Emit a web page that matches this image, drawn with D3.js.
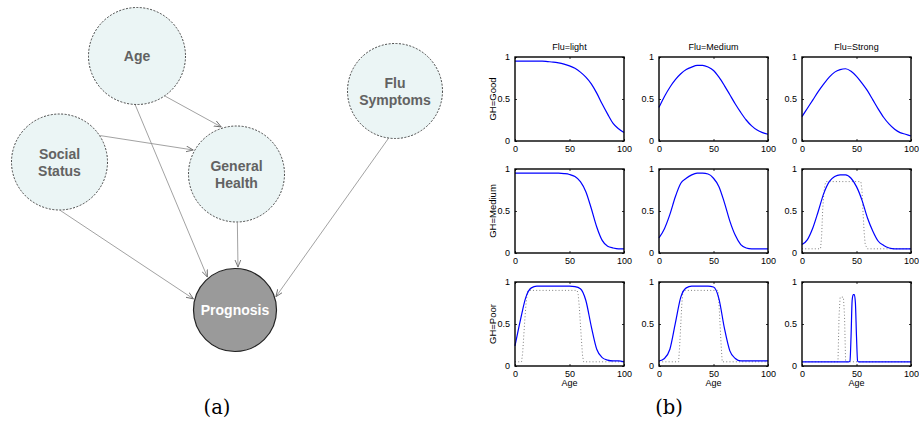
<!DOCTYPE html>
<html><head><meta charset="utf-8">
<script src="https://cdn.jsdelivr.net/npm/d3@7"></script>
<style>body{margin:0;background:#fff}svg{display:block}</style>
</head><body><svg id="c" width="919" height="425"></svg>
<script>
// ---------------- data: network diagram ----------------
const nodeNames = ["Age", "Social Status", "General Health", "Flu Symptoms", "Prognosis"];
const edgeList = [
  ["Age", "General Health"], ["Age", "Prognosis"],
  ["Social Status", "General Health"], ["Social Status", "Prognosis"],
  ["General Health", "Prognosis"], ["Flu Symptoms", "Prognosis"]
];

// ---------------- data: small multiples ----------------
const fluLevels = ["light", "Medium", "Strong"];
const ghLevels = ["Good", "Medium", "Poor"];
const xTicks = [0, 50, 100];
const yTicks = [0, 0.5, 1];
const ages = [0,5,10,15,20,25,30,35,40,45,50,55,60,65,70,75,80,85,90,95,100];

const goodLight    = [0.95,0.95,0.95,0.95,0.95,0.95,0.945,0.94,0.93,0.915,0.895,0.865,0.82,0.76,0.68,0.57,0.44,0.32,0.21,0.145,0.10];
const goodMedium   = [0.40,0.53,0.64,0.73,0.80,0.85,0.88,0.90,0.90,0.88,0.84,0.76,0.66,0.55,0.44,0.34,0.25,0.18,0.13,0.10,0.08];
const goodStrong   = [0.29,0.39,0.49,0.59,0.68,0.76,0.82,0.85,0.86,0.83,0.77,0.69,0.60,0.49,0.38,0.28,0.20,0.14,0.10,0.08,0.06];
const mediumLight  = [0.95,0.95,0.95,0.95,0.95,0.95,0.95,0.95,0.95,0.945,0.935,0.91,0.85,0.73,0.53,0.31,0.15,0.08,0.06,0.05,0.05];
const mediumMedium = [0.18,0.29,0.46,0.67,0.83,0.89,0.93,0.95,0.95,0.94,0.89,0.79,0.60,0.38,0.21,0.10,0.06,0.05,0.05,0.05,0.05];
const mediumStrong = [0.10,0.16,0.30,0.50,0.71,0.85,0.91,0.93,0.93,0.89,0.79,0.63,0.42,0.26,0.14,0.09,0.06,0.05,0.05,0.05,0.05];
const poorLight    = [0.24,0.55,0.82,0.93,0.95,0.95,0.95,0.95,0.95,0.95,0.95,0.945,0.92,0.78,0.47,0.20,0.10,0.07,0.06,0.06,0.05];
const poorMedium   = [0.06,0.09,0.20,0.51,0.82,0.93,0.95,0.95,0.95,0.95,0.94,0.80,0.45,0.18,0.09,0.06,0.06,0.06,0.06,0.06,0.06];
const poorStrongAges = [0,43,44,45,46,47,48,49,50,51,52,100];
const poorStrong     = [0.05,0.05,0.06,0.35,0.78,0.85,0.85,0.75,0.35,0.06,0.05,0.05];

// dotted reference curves
const mediumStrongRefAges = [0,17,18,19,20,21,22,54,55,56,57,58,60,100];
const mediumStrongRef     = [0.05,0.05,0.2,0.52,0.71,0.81,0.85,0.85,0.75,0.48,0.25,0.1,0.05,0.05];
const poorLightRefAges = [0,6,7,8,9,10,11,12,57,58,59,60,61,62,63,100];
const poorLightRef     = [0.05,0.05,0.15,0.35,0.55,0.72,0.85,0.9,0.9,0.85,0.7,0.5,0.3,0.12,0.05,0.05];
const poorMediumRefAges = [0,18,19,20,21,22,54,55,56,57,58,100];
const poorMediumRef     = [0.05,0.05,0.25,0.5,0.75,0.9,0.9,0.75,0.5,0.25,0.05,0.05];
const poorStrongRefAges = [0,33,34,35,38,39,40,100];
const poorStrongRef     = [0.05,0.05,0.6,0.82,0.82,0.6,0.05,0.05];

// ---------------- layout (not data) ----------------
const nodeLayout = {
  "Age":            {cx: 137, cy: 56,  r: 48.5, dark: false},
  "Social Status":  {cx: 59.5,cy: 162, r: 48,   dark: false},
  "General Health": {cx: 236.5,cy: 174, r: 48,  dark: false},
  "Flu Symptoms":   {cx: 395, cy: 91,  r: 47.5, dark: false},
  "Prognosis":      {cx: 235, cy: 310, r: 41.5, dark: true}
};
// anchor angles (deg) on source / target circle for each edge
const edgeAnchors = [[55,-108],[92,-130],[-33,-151],[89,-165],[89,-86],[98,-18]];

const svg = d3.select("#c");
const defs = svg.append("defs");
defs.append("marker").attr("id","arr").attr("viewBox","0 -5 10 10")
  .attr("refX",9).attr("refY",0).attr("markerWidth",8).attr("markerHeight",8)
  .attr("markerUnits","userSpaceOnUse").attr("orient","auto")
  .append("path").attr("d","M0,-3.6L9,0L0,3.6").attr("fill","none")
  .attr("stroke","#6a6a6a").attr("stroke-width",1.1);

const sans = "'Liberation Sans', Arial, Helvetica, sans-serif";

// ---------- diagram ----------
const gD = svg.append("g");
const rad = a => a * Math.PI / 180;
edgeList.forEach((e, i) => {
  const s = nodeLayout[e[0]], t = nodeLayout[e[1]];
  const [a1, a2] = edgeAnchors[i];
  gD.append("line")
    .attr("x1", s.cx + (s.r + 0.5) * Math.cos(rad(a1)))
    .attr("y1", s.cy + (s.r + 0.5) * Math.sin(rad(a1)))
    .attr("x2", t.cx + (t.r + 1.5) * Math.cos(rad(a2)))
    .attr("y2", t.cy + (t.r + 1.5) * Math.sin(rad(a2)))
    .attr("stroke", "#8a8a8a").attr("stroke-width", 0.8)
    .attr("marker-end", "url(#arr)");
});
nodeNames.forEach(n => {
  const L = nodeLayout[n];
  gD.append("circle").attr("cx", L.cx).attr("cy", L.cy).attr("r", L.r)
    .attr("fill", L.dark ? "#9a9a9a" : "#ebf5f5")
    .attr("stroke", L.dark ? "#222" : "#333")
    .attr("stroke-width", L.dark ? 1.2 : 0.9)
    .attr("stroke-dasharray", L.dark ? null : "2,1.5");
  const words = n === "Prognosis" || n === "Age" ? [n] : n.split(" ");
  const lh = 17;
  const t = gD.append("text").attr("text-anchor", "middle")
    .style("font-family", sans)
    .attr("font-weight", "bold").attr("font-size", 14)
    .attr("fill", L.dark ? "#ffffff" : "#626262");
  words.forEach((w, k) => {
    t.append("tspan").attr("x", L.cx)
      .attr("y", L.cy + 5 + (k - (words.length - 1) / 2) * lh).text(w);
  });
});

// ---------- small multiples ----------
const blueData = [
  [[ages, goodLight], [ages, goodMedium], [ages, goodStrong]],
  [[ages, mediumLight], [ages, mediumMedium], [ages, mediumStrong]],
  [[ages, poorLight], [ages, poorMedium], [poorStrongAges, poorStrong]]
];
const refData = [
  [null, null, null],
  [null, null, [mediumStrongRefAges, mediumStrongRef]],
  [[poorLightRefAges, poorLightRef], [poorMediumRefAges, poorMediumRef], [poorStrongRefAges, poorStrongRef]]
];
const colX = [515, 659, 802], rowY = [57, 169, 282];
const pw = 109, ph = 84;
const x = d3.scaleLinear().domain([0, 100]).range([0, pw]);
const y = d3.scaleLinear().domain([0, 1]).range([ph, 0]);
const fs = 9;
const fmt = d => String(d);

ghLevels.forEach((gh, r) => {
  fluLevels.forEach((flu, c) => {
    const g = svg.append("g").attr("transform", `translate(${colX[c]},${rowY[r]})`);
    g.append("rect").attr("width", pw).attr("height", ph).attr("fill", "#fff");
    const ref = refData[r][c];
    if (ref) {
      const pts = ref[0].map((a, i) => [a, ref[1][i]]);
      g.append("path").attr("d", d3.line().x(d => x(d[0])).y(d => y(d[1]))(pts))
        .attr("fill", "none").attr("stroke", "#808080").attr("stroke-width", 1)
        .attr("stroke-dasharray", "1,2.2");
    }
    const bd = blueData[r][c];
    const bpts = bd[0].map((a, i) => [a, bd[1][i]]);
    g.append("path").attr("d", d3.line().curve(d3.curveMonotoneX).x(d => x(d[0])).y(d => y(d[1]))(bpts))
      .attr("fill", "none").attr("stroke", "#0000ff").attr("stroke-width", 1.2);

    const styleAxis = (sel, labels) => {
      sel.select(".domain").remove();
      sel.attr("font-family", null).attr("font-size", null);
      sel.selectAll(".tick line").attr("stroke", "#000").attr("stroke-width", 0.8);
      sel.selectAll(".tick text").style("font-family", sans).style("font-size", fs + "px").attr("fill", "#000");
      if (!labels) sel.selectAll(".tick text").remove();
    };
    g.append("g").attr("transform", `translate(0,${ph})`)
      .call(d3.axisBottom(x).tickValues(xTicks).tickFormat(fmt).tickSizeInner(-2).tickSizeOuter(0).tickPadding(4.2))
      .call(s => styleAxis(s, true));
    g.append("g")
      .call(d3.axisTop(x).tickValues(xTicks).tickSizeInner(-2).tickSizeOuter(0))
      .call(s => styleAxis(s, false));
    g.append("g")
      .call(d3.axisLeft(y).tickValues(yTicks).tickFormat(fmt).tickSizeInner(-2).tickSizeOuter(0).tickPadding(5))
      .call(s => styleAxis(s, true));
    g.append("g").attr("transform", `translate(${pw},0)`)
      .call(d3.axisRight(y).tickValues(yTicks).tickSizeInner(-2).tickSizeOuter(0))
      .call(s => styleAxis(s, false));

    g.append("rect").attr("width", pw).attr("height", ph).attr("fill", "none")
      .attr("stroke", "#000").attr("stroke-width", 1.4);

    if (r === 0) {
      g.append("text").attr("x", pw / 2).attr("y", -7).attr("text-anchor", "middle")
        .style("font-family", sans).style("font-size", "9px").text("Flu=" + flu);
    }
    if (c === 0) {
      g.append("text").attr("transform", `translate(-19.5,${ph / 2}) rotate(-90)`)
        .attr("text-anchor", "middle").style("font-family", sans).style("font-size", "9.5px")
        .text("GH=" + gh);
    }
    if (r === 2) {
      g.append("text").attr("x", pw / 2).attr("y", ph + 19.5).attr("text-anchor", "middle")
        .style("font-family", sans).style("font-size", fs + "px").text("Age");
    }
  });
});

// ---------- captions ----------
[["(a)", 217], ["(b)", 669]].forEach(([t, cx]) => {
  svg.append("text").attr("x", cx).attr("y", 414).attr("text-anchor", "middle")
    .style("font-family", "'DejaVu Serif', 'Liberation Serif', serif").style("font-size", "19.5px")
    .text(t);
});
</script></body></html>
